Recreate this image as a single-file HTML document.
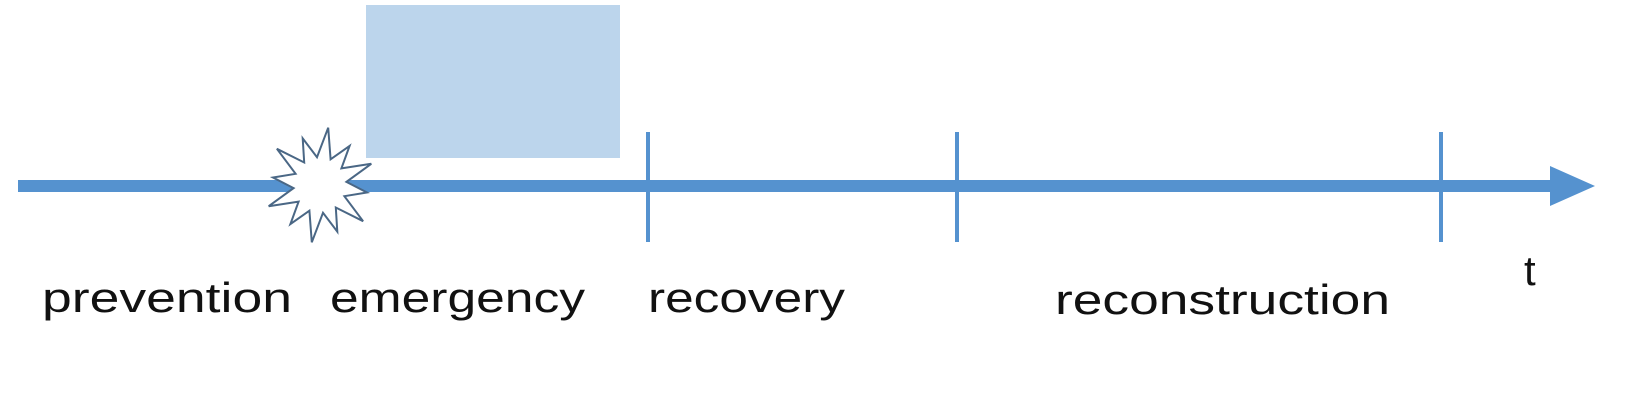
<!DOCTYPE html>
<html><head><meta charset="utf-8"><style>
html,body{margin:0;padding:0;background:#fff;}
svg{display:block;}
text{font-family:"Liberation Sans",sans-serif;font-size:42px;fill:#111;}
</style></head><body>
<svg width="1645" height="400" viewBox="0 0 1645 400">
  <rect x="366" y="5" width="254" height="153" fill="#bcd5ec"/>
  <rect x="18" y="180" width="1535" height="12" fill="#5592cf"/>
  <polygon points="1550,166 1595,186 1550,206" fill="#5592cf"/>
  <rect x="646" y="132" width="4" height="110" fill="#5592cf"/>
  <rect x="955" y="132" width="4" height="110" fill="#5592cf"/>
  <rect x="1439" y="132" width="4" height="110" fill="#5592cf"/>
  <polygon id="star" fill="#fff" stroke="#4a6785" stroke-width="2"/>
  <text x="42" y="312" textLength="250" lengthAdjust="spacingAndGlyphs">prevention</text>
  <text x="330" y="312" textLength="255" lengthAdjust="spacingAndGlyphs">emergency</text>
  <text x="648" y="312" textLength="197" lengthAdjust="spacingAndGlyphs">recovery</text>
  <text x="1055" y="314" textLength="335" lengthAdjust="spacingAndGlyphs">reconstruction</text>
  <text x="1524" y="285">t</text>
</svg>
<script>
const cx=320,cy=185,n=12,pts=[];
for(let i=0;i<n*2;i++){
  const a=Math.PI*i/n - Math.PI/2 + 0.15;
  const r=i%2===0?(i%4===0?58:50):28;
  pts.push((cx+r*Math.cos(a)*0.95).toFixed(1)+','+(cy+r*Math.sin(a)).toFixed(1));
}
document.getElementById('star').setAttribute('points',pts.join(' '));
</script>
</body></html>
